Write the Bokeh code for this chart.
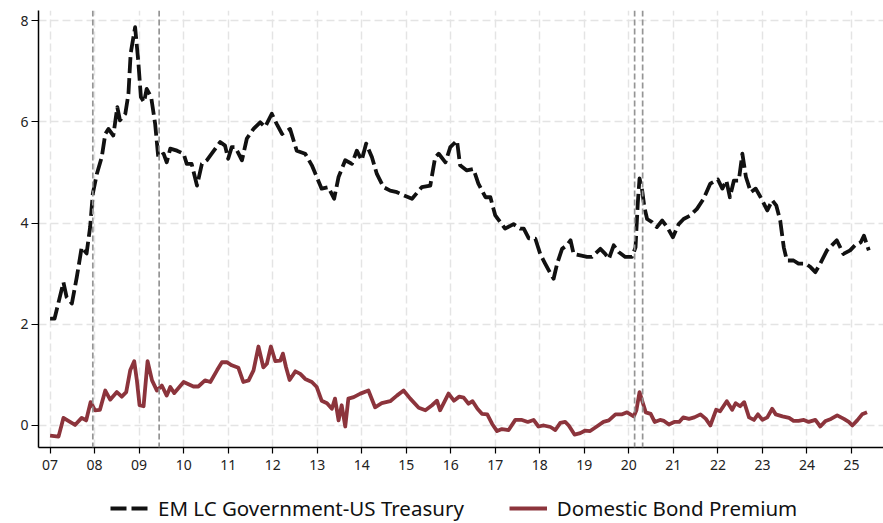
from bokeh.plotting import figure
from bokeh.layouts import column
from bokeh.models import Range1d, FixedTicker, Span, Legend, LegendItem
from bokeh.embed import file_html
from bokeh.resources import INLINE

# ---------------- data (decimal years) ----------------
em_x = [2007.00, 2007.10, 2007.30, 2007.37, 2007.49, 2007.60, 2007.71, 2007.82, 2007.90, 2007.96,
        2008.05, 2008.16, 2008.24, 2008.31, 2008.42, 2008.51, 2008.57, 2008.69, 2008.76, 2008.81,
        2008.91, 2008.98, 2009.04, 2009.11, 2009.17, 2009.27, 2009.36, 2009.43, 2009.55, 2009.62,
        2009.70, 2009.85, 2010.00, 2010.07, 2010.18, 2010.30, 2010.41, 2010.52, 2010.63, 2010.82,
        2010.93, 2011.00, 2011.08, 2011.16, 2011.31, 2011.42, 2011.57, 2011.72, 2011.83, 2011.98,
        2012.09, 2012.21, 2012.39, 2012.54, 2012.73, 2012.88, 2012.99, 2013.10, 2013.25, 2013.38,
        2013.48, 2013.63, 2013.78, 2013.89, 2014.00, 2014.10, 2014.23, 2014.34, 2014.49, 2014.64,
        2014.79, 2014.94, 2015.13, 2015.35, 2015.54, 2015.65, 2015.73, 2015.88, 2015.99, 2016.14,
        2016.21, 2016.36, 2016.51, 2016.62, 2016.78, 2016.89, 2017.00, 2017.11, 2017.22, 2017.41,
        2017.56, 2017.64, 2017.75, 2017.90, 2018.01, 2018.12, 2018.24, 2018.31, 2018.39, 2018.50,
        2018.61, 2018.69, 2018.76, 2018.91, 2019.06, 2019.17, 2019.36, 2019.47, 2019.55, 2019.66,
        2019.77, 2019.92, 2020.07, 2020.15, 2020.20, 2020.24, 2020.30, 2020.35, 2020.41, 2020.52,
        2020.63, 2020.75, 2020.86, 2020.99, 2021.12, 2021.23, 2021.38, 2021.53, 2021.68, 2021.83,
        2022.00, 2022.10, 2022.19, 2022.27, 2022.36, 2022.47, 2022.55, 2022.63, 2022.74, 2022.85,
        2022.96, 2023.11, 2023.22, 2023.31, 2023.40, 2023.48, 2023.55, 2023.70, 2023.81, 2023.97,
        2024.08, 2024.19, 2024.30, 2024.45, 2024.56, 2024.67, 2024.82, 2024.97, 2025.08, 2025.21,
        2025.28, 2025.39]
em_y = [2.11, 2.11, 2.83, 2.54, 2.41, 2.93, 3.52, 3.40, 3.92, 4.58,
        4.97, 5.30, 5.76, 5.86, 5.73, 6.29, 6.03, 6.16, 6.55, 7.35,
        7.87, 7.21, 6.49, 6.39, 6.65, 6.49, 5.96, 5.30, 5.37, 5.20,
        5.47, 5.43, 5.37, 5.17, 5.17, 4.74, 5.17, 5.24, 5.37, 5.60,
        5.53, 5.27, 5.50, 5.50, 5.24, 5.67, 5.86, 5.99, 5.90, 6.16,
        5.96, 5.76, 5.86, 5.43, 5.37, 5.14, 4.91, 4.68, 4.71, 4.48,
        4.91, 5.24, 5.17, 5.43, 5.24, 5.57, 5.30, 4.97, 4.71, 4.64,
        4.61, 4.55, 4.48, 4.71, 4.74, 5.30, 5.37, 5.20, 5.50, 5.63,
        5.14, 5.04, 5.07, 4.78, 4.51, 4.51, 4.15, 4.02, 3.89, 3.98,
        3.89, 3.89, 3.70, 3.69, 3.39, 3.20, 3.00, 2.90, 3.20, 3.49,
        3.56, 3.66, 3.39, 3.36, 3.33, 3.33, 3.49, 3.39, 3.29, 3.56,
        3.43, 3.33, 3.33, 3.52, 4.38, 4.88, 4.64, 4.31, 4.08, 4.02,
        3.92, 4.05, 3.92, 3.72, 3.98, 4.08, 4.15, 4.28, 4.48, 4.78,
        4.86, 4.68, 4.84, 4.51, 4.84, 4.84, 5.37, 4.91, 4.61, 4.68,
        4.51, 4.25, 4.45, 4.35, 4.05, 3.52, 3.26, 3.26, 3.20, 3.20,
        3.13, 3.03, 3.20, 3.46, 3.56, 3.66, 3.39, 3.46, 3.56, 3.62,
        3.75, 3.46]

dbp_x = [2007.00, 2007.19, 2007.30, 2007.41, 2007.56, 2007.71, 2007.81, 2007.91, 2008.01, 2008.12,
         2008.24, 2008.35, 2008.50, 2008.61, 2008.71, 2008.80, 2008.89, 2008.95, 2009.01, 2009.10,
         2009.19, 2009.29, 2009.40, 2009.51, 2009.62, 2009.70, 2009.79, 2010.00, 2010.22, 2010.33,
         2010.48, 2010.60, 2010.75, 2010.86, 2010.97, 2011.08, 2011.23, 2011.34, 2011.46, 2011.57,
         2011.68, 2011.79, 2011.87, 2011.96, 2012.06, 2012.17, 2012.23, 2012.30, 2012.38, 2012.51,
         2012.62, 2012.73, 2012.88, 2012.99, 2013.10, 2013.22, 2013.33, 2013.40, 2013.48, 2013.55,
         2013.63, 2013.70, 2013.82, 2013.97, 2014.15, 2014.30, 2014.45, 2014.64, 2014.79, 2014.94,
         2015.09, 2015.28, 2015.43, 2015.58, 2015.69, 2015.76, 2015.95, 2016.07, 2016.19, 2016.29,
         2016.40, 2016.49, 2016.60, 2016.70, 2016.82, 2016.93, 2017.04, 2017.15, 2017.30, 2017.45,
         2017.60, 2017.73, 2017.86, 2017.97, 2018.09, 2018.24, 2018.35, 2018.46, 2018.57, 2018.65,
         2018.78, 2018.91, 2019.02, 2019.13, 2019.28, 2019.43, 2019.55, 2019.70, 2019.85, 2019.96,
         2020.11, 2020.17, 2020.24, 2020.31, 2020.38, 2020.49, 2020.58, 2020.70, 2020.79, 2020.90,
         2021.02, 2021.13, 2021.22, 2021.35, 2021.47, 2021.61, 2021.73, 2021.83, 2021.96, 2022.05,
         2022.20, 2022.32, 2022.40, 2022.50, 2022.59, 2022.70, 2022.81, 2022.90, 2023.00, 2023.11,
         2023.22, 2023.30, 2023.45, 2023.60, 2023.70, 2023.81, 2023.93, 2024.04, 2024.19, 2024.30,
         2024.42, 2024.54, 2024.68, 2024.83, 2024.94, 2025.02, 2025.13, 2025.24, 2025.35]
dbp_y = [-0.20, -0.22, 0.15, 0.09, 0.01, 0.15, 0.10, 0.46, 0.30, 0.31,
         0.69, 0.51, 0.66, 0.57, 0.66, 1.09, 1.27, 0.89, 0.40, 0.38,
         1.27, 0.89, 0.69, 0.79, 0.59, 0.76, 0.64, 0.86, 0.77, 0.77,
         0.89, 0.86, 1.09, 1.25, 1.25, 1.19, 1.14, 0.86, 0.89, 1.09,
         1.56, 1.15, 1.22, 1.56, 1.27, 1.28, 1.42, 1.15, 0.90, 1.07,
         1.02, 0.92, 0.86, 0.76, 0.49, 0.44, 0.33, 0.53, 0.10, 0.40,
         -0.02, 0.53, 0.56, 0.63, 0.69, 0.36, 0.44, 0.48, 0.59, 0.69,
         0.53, 0.35, 0.30, 0.40, 0.49, 0.30, 0.63, 0.49, 0.57, 0.55,
         0.43, 0.48, 0.33, 0.23, 0.22, 0.03, -0.11, -0.07, -0.09, 0.11,
         0.11, 0.07, 0.11, -0.02, 0.00, -0.03, -0.09, 0.05, 0.07, 0.00,
         -0.18, -0.15, -0.10, -0.11, -0.02, 0.07, 0.10, 0.22, 0.22, 0.26,
         0.18, 0.30, 0.66, 0.46, 0.26, 0.23, 0.07, 0.11, 0.09, 0.02,
         0.07, 0.07, 0.16, 0.13, 0.16, 0.22, 0.13, 0.00, 0.31, 0.28,
         0.48, 0.31, 0.44, 0.38, 0.46, 0.16, 0.11, 0.22, 0.11, 0.16,
         0.33, 0.22, 0.18, 0.15, 0.09, 0.09, 0.11, 0.07, 0.11, -0.02,
         0.09, 0.13, 0.20, 0.13, 0.07, 0.00, 0.10, 0.22, 0.26]

x_ticks = list(range(2007, 2026))
x_tick_labels = ["07", "08", "09", "10", "11", "12", "13", "14", "15", "16",
                 "17", "18", "19", "20", "21", "22", "23", "24", "25"]
y_ticks = [0, 2, 4, 6, 8]
event_lines = [2007.96, 2009.45, 2020.13, 2020.31]
series_labels = ["EM LC Government-US Treasury", "Domestic Bond Premium"]

FONT = "Noto Sans"
EM_STYLE = dict(line_color="#111111", line_width=3.8, line_dash="16 5", line_join="round")
DBP_STYLE = dict(line_color="#8c343c", line_width=3.8, line_join="round")

p = figure(width=883, height=479, output_backend="svg", toolbar_location=None,
           x_range=Range1d(2006.74, 2025.72), y_range=Range1d(-0.435, 8.2),
           min_border_left=38, min_border_right=0, min_border_top=10, min_border_bottom=32)
p.outline_line_color = None

# grids
for g, ticks in ((p.xgrid, x_ticks), (p.ygrid, y_ticks)):
    g.ticker = FixedTicker(ticks=ticks)
    g.grid_line_color = "#e4e4e4"
    g.grid_line_dash = "8 4"
    g.grid_line_width = 1.5

# axes
xa = p.xaxis[0]
xa.ticker = FixedTicker(ticks=x_ticks)
xa.major_label_overrides = {t: l for t, l in zip(x_ticks, x_tick_labels)}
ya = p.yaxis[0]
ya.ticker = FixedTicker(ticks=y_ticks)
for ax in (xa, ya):
    ax.axis_line_color = "black"
    ax.axis_line_width = 1.5
    ax.major_tick_line_color = "black"
    ax.major_tick_line_width = 1.2
    ax.major_tick_in = 0
    ax.minor_tick_line_color = None
    ax.major_label_text_font = FONT
    ax.major_label_text_font_size = "14px"
    ax.major_label_text_color = "#222222"
xa.major_tick_out = 6
xa.major_label_standoff = 6
ya.major_tick_out = 7
ya.major_label_standoff = 3

# event lines
for loc in event_lines:
    p.add_layout(Span(location=loc, dimension="height", line_color="#959595",
                      line_dash="6 3", line_width=1.7))

p.line(em_x, em_y, **EM_STYLE)
p.line(dbp_x, dbp_y, **DBP_STYLE)

# legend strip below the chart (swatch renderers sit outside the visible range)
lg = figure(width=883, height=44, output_backend="svg", toolbar_location=None,
            x_range=Range1d(0, 1), y_range=Range1d(0, 1),
            x_axis_location=None, y_axis_location=None,
            min_border=0)
lg.outline_line_color = None
lg.xgrid.visible = False
lg.ygrid.visible = False
r1 = lg.line([-2, -1], [-2, -2], **EM_STYLE)
r2 = lg.line([-2, -1], [-3, -3], **DBP_STYLE)
legend = Legend(items=[LegendItem(label=series_labels[0], renderers=[r1]),
                       LegendItem(label=series_labels[1], renderers=[r2])],
                orientation="horizontal", location=(72, 1),
                label_text_font=FONT, label_text_font_size="20.5px", label_text_color="#111111",
                glyph_width=38, glyph_height=20, spacing=45, label_standoff=10,
                padding=0, margin=0, border_line_alpha=0, background_fill_alpha=0)
lg.add_layout(legend)

layout = column(p, lg, spacing=0)
open("out.html", "w").write(file_html(layout, INLINE))
